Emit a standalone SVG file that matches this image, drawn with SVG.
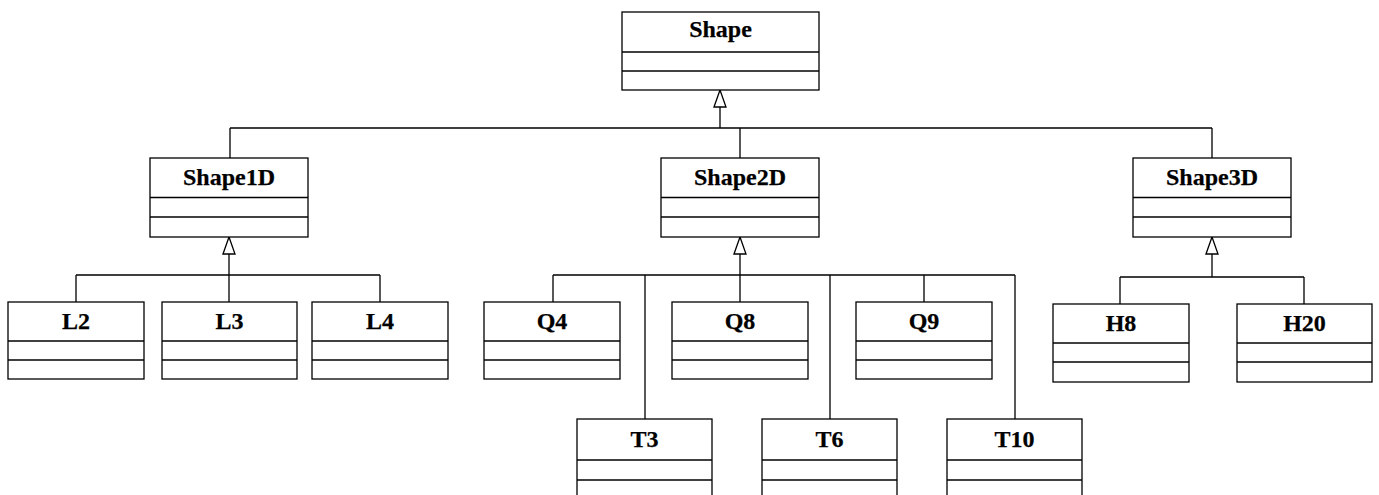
<svg xmlns="http://www.w3.org/2000/svg" width="1379" height="495" viewBox="0 0 1379 495">
<style>
.box{fill:#fff;stroke:#000;stroke-width:1.3}
.div{stroke:#000;stroke-width:1.3}
.lbl{font-family:"Liberation Serif","Times New Roman",serif;font-weight:bold;font-size:24px;text-anchor:middle;fill:#000;stroke:#000;stroke-width:0.25}
.con{fill:none;stroke:#000;stroke-width:1.3}
</style>
<defs>
<marker id="gen" markerUnits="userSpaceOnUse" markerWidth="20" markerHeight="16" viewBox="0 0 20 16" refX="18" refY="7" orient="auto">
<path d="M1,1 L18,7 L1,13 Z" fill="#fff" stroke="#000" stroke-width="1.3"/>
</marker>
</defs>
<g id="connectors">
<path class="con" d="M720,128 V90" marker-end="url(#gen)"/>
<path class="con" d="M230,128 H1212 M230,128 V158 M740,128 V158 M1212,128 V158"/>
<path class="con" d="M229,275 V237" marker-end="url(#gen)"/>
<path class="con" d="M76,275 H380 M76,275 V302 M229,275 V302 M380,275 V302"/>
<path class="con" d="M740,275 V237" marker-end="url(#gen)"/>
<path class="con" d="M553,275 H1015 M553,275 V302 M740,275 V302 M924,275 V302 M645,275 V419 M830,275 V419 M1015,275 V419"/>
<path class="con" d="M1212,277 V237" marker-end="url(#gen)"/>
<path class="con" d="M1120,277 H1304 M1120,277 V304 M1304,277 V304"/>
</g>
<g id="Shape"><rect class="box" x="622" y="12" width="197" height="78"/><line class="div" x1="622" y1="52" x2="819" y2="52"/><line class="div" x1="622" y1="71" x2="819" y2="71"/><text class="lbl" x="720.5" y="37">Shape</text></g>
<g id="Shape1D"><rect class="box" x="150" y="158" width="158" height="79"/><line class="div" x1="150" y1="197.5" x2="308" y2="197.5"/><line class="div" x1="150" y1="217" x2="308" y2="217"/><text class="lbl" x="229" y="184.5">Shape1D</text></g>
<g id="Shape2D"><rect class="box" x="661" y="158" width="158" height="79"/><line class="div" x1="661" y1="197.5" x2="819" y2="197.5"/><line class="div" x1="661" y1="217" x2="819" y2="217"/><text class="lbl" x="740" y="184.5">Shape2D</text></g>
<g id="Shape3D"><rect class="box" x="1133" y="158" width="158" height="79"/><line class="div" x1="1133" y1="197.5" x2="1291" y2="197.5"/><line class="div" x1="1133" y1="217" x2="1291" y2="217"/><text class="lbl" x="1212" y="184.5">Shape3D</text></g>
<g id="L2"><rect class="box" x="8" y="302" width="136" height="77"/><line class="div" x1="8" y1="341" x2="144" y2="341"/><line class="div" x1="8" y1="360" x2="144" y2="360"/><text class="lbl" x="76" y="329">L2</text></g>
<g id="L3"><rect class="box" x="162" y="302" width="135" height="77"/><line class="div" x1="162" y1="341" x2="297" y2="341"/><line class="div" x1="162" y1="360" x2="297" y2="360"/><text class="lbl" x="229.5" y="329">L3</text></g>
<g id="L4"><rect class="box" x="312" y="302" width="136" height="77"/><line class="div" x1="312" y1="341" x2="448" y2="341"/><line class="div" x1="312" y1="360" x2="448" y2="360"/><text class="lbl" x="380" y="329">L4</text></g>
<g id="Q4"><rect class="box" x="484" y="302" width="136" height="77"/><line class="div" x1="484" y1="341" x2="620" y2="341"/><line class="div" x1="484" y1="360" x2="620" y2="360"/><text class="lbl" x="552" y="329">Q4</text></g>
<g id="Q8"><rect class="box" x="672" y="302" width="136" height="77"/><line class="div" x1="672" y1="341" x2="808" y2="341"/><line class="div" x1="672" y1="360" x2="808" y2="360"/><text class="lbl" x="740" y="329">Q8</text></g>
<g id="Q9"><rect class="box" x="856" y="302" width="136" height="77"/><line class="div" x1="856" y1="341" x2="992" y2="341"/><line class="div" x1="856" y1="360" x2="992" y2="360"/><text class="lbl" x="924" y="329">Q9</text></g>
<g id="T3"><rect class="box" x="577" y="419" width="135" height="85"/><line class="div" x1="577" y1="460" x2="712" y2="460"/><line class="div" x1="577" y1="480" x2="712" y2="480"/><text class="lbl" x="644.5" y="447">T3</text></g>
<g id="T6"><rect class="box" x="762" y="419" width="135" height="85"/><line class="div" x1="762" y1="460" x2="897" y2="460"/><line class="div" x1="762" y1="480" x2="897" y2="480"/><text class="lbl" x="829.5" y="447">T6</text></g>
<g id="T10"><rect class="box" x="947" y="419" width="135" height="85"/><line class="div" x1="947" y1="460" x2="1082" y2="460"/><line class="div" x1="947" y1="480" x2="1082" y2="480"/><text class="lbl" x="1014.5" y="447">T10</text></g>
<g id="H8"><rect class="box" x="1053" y="304" width="136" height="78"/><line class="div" x1="1053" y1="343" x2="1189" y2="343"/><line class="div" x1="1053" y1="362" x2="1189" y2="362"/><text class="lbl" x="1121" y="331">H8</text></g>
<g id="H20"><rect class="box" x="1237" y="304" width="135" height="78"/><line class="div" x1="1237" y1="343" x2="1372" y2="343"/><line class="div" x1="1237" y1="362" x2="1372" y2="362"/><text class="lbl" x="1304.5" y="331">H20</text></g>
</svg>
